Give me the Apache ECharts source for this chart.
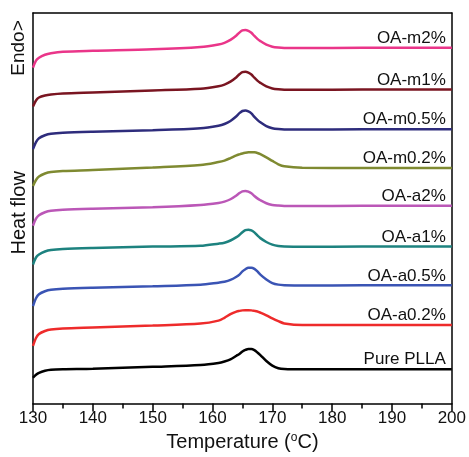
<!DOCTYPE html>
<html><head><meta charset="utf-8">
<script src="https://cdn.jsdelivr.net/npm/echarts@6/dist/echarts.min.js"></script>
<style>html,body{margin:0;padding:0;background:#fff}#c{width:469px;height:457px}</style>
</head><body><div id="c"></div>
<script>
// Temperature (°C) sample points
const temperature = [130,130.5,131,132,133,135,140,150,158,161,162,163,164,164.5,165,165.5,166,166.5,167,167.5,168,169,170,171,172,175,185,200];
// Heat flow (arbitrary units, curves offset as plotted)
const pureplla = [26,29,31,33,34,34.5,35,37,38.8,40.8,42.3,44.5,48.2,50,52.4,54,55,55,53.8,51.5,48.8,42.8,38.2,35.6,34.8,34.5,34.5,34.5];
const oaA02 = [58,66,70,73,74.5,75.5,76.5,78.5,80.5,83.5,86.3,90,92.6,93.3,93.8,94,94,93.8,93.3,92.7,91.5,88.8,85.7,83,80.7,79,79,79];
const oaA05 = [98,106,110,113,114.5,115.5,116.5,118,119.5,121.7,122.6,124.4,127.6,129.8,133,135.2,136.8,136.8,135.6,133,129.8,124.9,121.3,119.7,119.2,118.8,119,119];
const oaA1 = [140,147,150,153,154.5,155.5,156.5,158,158.7,160.9,161.9,164.1,167.5,169.7,172.5,174.5,175,174.2,172.3,169.2,166.5,162.6,159.9,158.5,158,157.7,158,158];
const oaA2 = [179,186,189.5,192.5,194,195,196,197.5,199.8,201.9,203.2,205.6,209.4,211.8,213.6,214,213.3,211.6,208.9,206.5,204.6,201.6,199.9,199.2,198.8,198.7,199,199];
const oaM02 = [219,225,228.5,231.5,233,234,235,237.5,240,243,244.5,247,249.8,250.8,251.7,252.4,252.9,253,252.8,252.2,251,247.8,244.2,240.8,238.7,237.2,237,237];
const oaM05 = [256,263,267,270,271.5,272.5,273.5,275,277,279.6,281.3,284.4,289.1,292.2,294.4,295,294,292,288.5,285.5,283,279.2,277.1,276.2,275.8,275.7,276,276];
const oaM1 = [299,305,308,310,311,312,313,315,316.9,319.4,321,323.9,328.4,331.3,333.5,334,333.1,331.1,327.9,325,322.7,319.1,317.1,316.2,315.8,315.7,316,316];
const oaM2 = [338,345,348,351,352.5,354,355,356.5,358.9,361.4,363,365.9,370.4,373.3,375.5,376,375.1,373.1,369.9,367,364.7,361.1,359.1,358.2,357.8,357.7,358,358];

const seriesNames = ['Pure PLLA','OA-a0.2%','OA-a0.5%','OA-a1%','OA-a2%','OA-m0.2%','OA-m0.5%','OA-m1%','OA-m2%'];
const seriesValues = [pureplla, oaA02, oaA05, oaA1, oaA2, oaM02, oaM05, oaM1, oaM2];
const seriesColors = ['#000000','#ee2b2b','#3a54b4','#1d827f','#bb57b7','#7f8a31','#2e2c7c','#7a1521','#ea3589'];
const xTicks = [130,140,150,160,170,180,190,200];

const chart = echarts.init(document.getElementById('c'), null, {renderer:'canvas'});
const font = 'Liberation Sans, Arial, sans-serif';
const series = seriesNames.map((name, i) => {
  const vals = seriesValues[i];
  return {
    name: name,
    type: 'line',
    xAxisIndex: 0, yAxisIndex: 0,
    data: temperature.map((t, j) => [t, vals[j]]),
    smooth: 0.3,
    symbol: 'none',
    lineStyle: {color: seriesColors[i], width: 2.5},
    itemStyle: {color: seriesColors[i]},
    markPoint: {
      symbol: 'circle', symbolSize: 0, silent: true, animation: false,
      data: [{coord: [199, vals[vals.length - 1]]}],
      label: {
        show: true, position: 'top', align: 'right', distance: 1,
        formatter: name, fontSize: 17, color: '#111', fontFamily: font
      }
    }
  };
});

chart.setOption({
  animation: false,
  backgroundColor: '#fff',
  grid: {left: 33, right: 17, top: 13, bottom: 51},
  xAxis: [{
    type: 'value', min: xTicks[0], max: xTicks[xTicks.length-1], interval: 10,
    position: 'bottom',
    axisLine: {show: true, onZero: false, lineStyle: {color: '#000', width: 1.5}},
    axisTick: {show: true, inside: false, length: 8, lineStyle: {color: '#000', width: 1.5}},
    minorTick: {show: true, splitNumber: 2, length: 5, lineStyle: {color: '#000', width: 1.5}},
    splitLine: {show: false},
    axisLabel: {fontSize: 17, color: '#111', margin: 6, fontFamily: font},
    name: 'Temperature ({sup|o}C)',
    nameLocation: 'middle', nameGap: 26,
    nameTextStyle: {
      fontSize: 20, color: '#111', fontFamily: font,
      rich: {sup: {fontSize: 12, color: '#111', fontFamily: font, padding: [0, 0, 9, 0]}}
    }
  }, {
    type: 'value', min: 130, max: 200, position: 'top',
    axisLine: {show: true, onZero: false, lineStyle: {color: '#000', width: 1.5}},
    axisTick: {show: false}, axisLabel: {show: false}, splitLine: {show: false}
  }],
  yAxis: [{
    type: 'value', min: 0, max: 393, position: 'left',
    axisLine: {show: true, onZero: false, lineStyle: {color: '#000', width: 1.5}},
    axisTick: {show: false}, axisLabel: {show: false}, splitLine: {show: false},
    name: 'Heat flow', nameLocation: 'middle', nameGap: 4, nameRotate: 90,
    nameTextStyle: {fontSize: 20, color: '#111', fontFamily: font, padding: [0, 0, 0, -9]}
  }, {
    type: 'value', min: 0, max: 393, position: 'right',
    axisLine: {show: true, onZero: false, lineStyle: {color: '#000', width: 1.5}},
    axisTick: {show: false}, axisLabel: {show: false}, splitLine: {show: false}
  }],
  graphic: [{
    type: 'text', x: 19, y: 48, rotation: Math.PI / 2,
    style: {text: 'Endo>', fontSize: 19, fill: '#111', fontFamily: font, align: 'center', verticalAlign: 'middle'}
  }],
  series: series
});
</script></body></html>
